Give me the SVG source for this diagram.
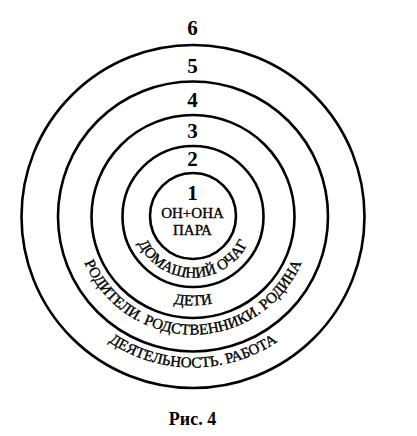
<svg xmlns="http://www.w3.org/2000/svg" xmlns:xlink="http://www.w3.org/1999/xlink" width="417" height="436" viewBox="0 0 417 436">
<style>
.ring{fill:none;stroke:#000;stroke-width:2.6}
.num{font-family:"Liberation Serif","Times New Roman",serif;font-weight:bold;font-size:21px;fill:#000;text-anchor:middle}
.lbl{font-family:"Liberation Serif","Times New Roman",serif;font-size:15px;fill:#000;stroke:#000;stroke-width:0.35;text-anchor:middle}
.cap{font-family:"Liberation Serif","Times New Roman",serif;font-weight:bold;font-size:18px;fill:#000;text-anchor:middle}
</style>
<defs>
<path id="p1" d="M132,216.5 A61,61 0 0 0 254,216.5"/>
<path id="p2" d="M104,216.5 A89,89 0 0 0 282,216.5"/>
<path id="p3" d="M75,216.5 A118,118 0 0 0 311,216.5"/>
<path id="p4" d="M42,216.5 A151,151 0 0 0 344,216.5"/>
</defs>
<rect width="417" height="436" fill="#fff"/>
<g id="connectors"/>
<g id="level6">
<circle class="ring" cx="193" cy="216.5" r="171.5"/>
<text class="num" x="192.5" y="34.5">6</text>
<text class="lbl"><textPath xlink:href="#p4" href="#p4" startOffset="50%">ДЕЯТЕЛЬНОСТЬ. РАБОТА</textPath></text>
</g>
<g id="level5">
<circle class="ring" cx="193" cy="216.5" r="135"/>
<text class="num" x="192.5" y="72.5">5</text>
<text class="lbl"><textPath xlink:href="#p3" href="#p3" startOffset="50%">РОДИТЕЛИ. РОДСТВЕННИКИ. РОДИНА</textPath></text>
</g>
<g id="level4">
<circle class="ring" cx="193" cy="216.5" r="101.5"/>
<text class="num" x="192.5" y="106.5">4</text>
<text class="lbl"><textPath xlink:href="#p2" href="#p2" startOffset="50%">ДЕТИ</textPath></text>
</g>
<g id="level3">
<circle class="ring" cx="193" cy="216.5" r="70.5"/>
<text class="num" x="192.5" y="138">3</text>
</g>
<g id="level2">
<text class="num" x="192.5" y="166">2</text>
<text class="lbl"><textPath xlink:href="#p1" href="#p1" startOffset="50%">ДОМАШНИЙ ОЧАГ</textPath></text>
</g>
<g id="level1">
<circle class="ring" cx="193" cy="216" r="43"/>
<text class="num" x="192.5" y="200">1</text>
<text class="lbl" x="192.5" y="218">ОН+ОНА</text>
<text class="lbl" x="192.5" y="235">ПАРА</text>
</g>
<g id="caption">
<text class="cap" x="192.5" y="425">Рис. 4</text>
</g>
</svg>
